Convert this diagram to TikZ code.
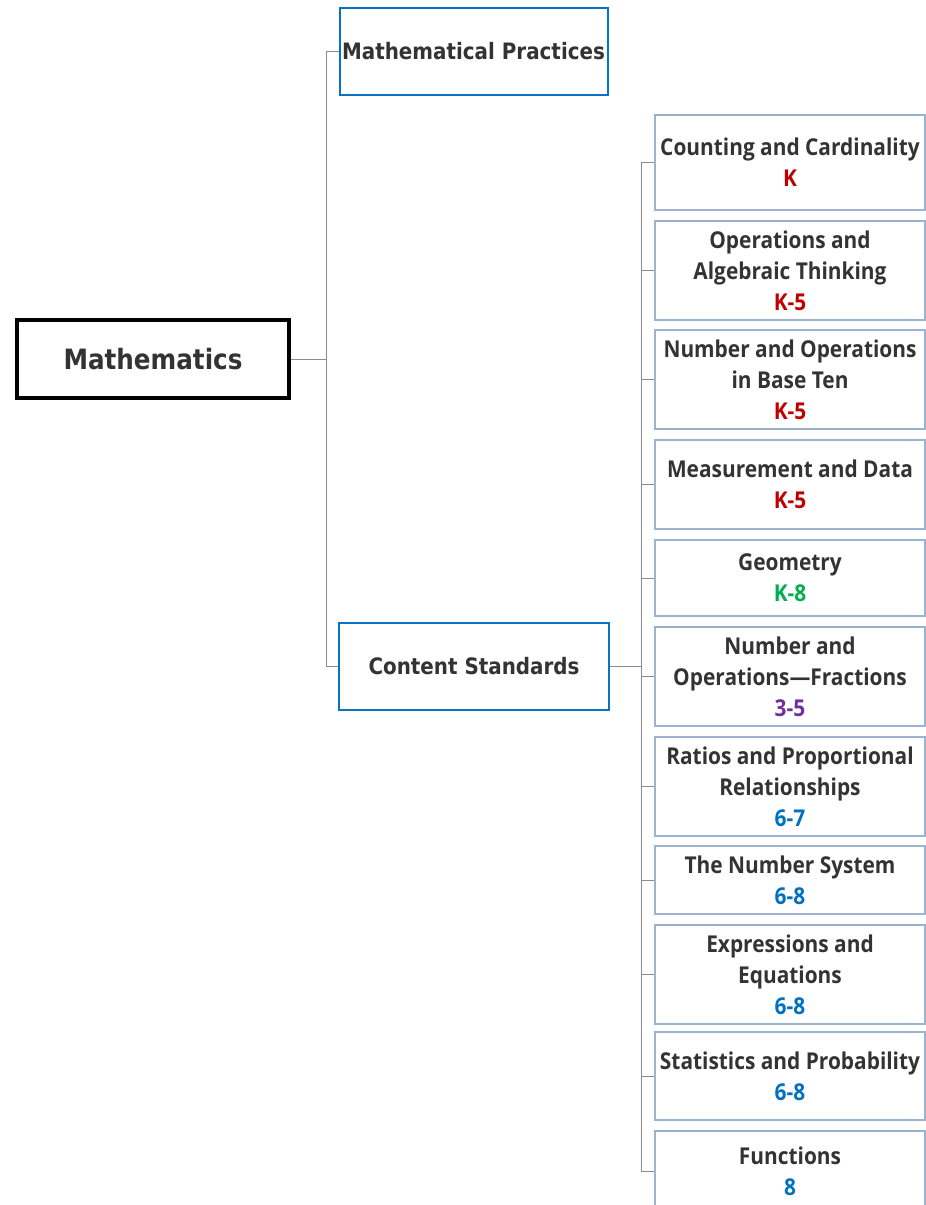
\documentclass[tikz,border=0pt]{standalone}
\usepackage{fontspec}
\setmainfont{Open Sans}
\newfontfamily\leaffont[FakeStretch=0.9]{Open Sans}
\newfontfamily\headfont[FakeStretch=0.88]{DejaVu Sans}
\definecolor{txt}{HTML}{333333}
\definecolor{wire}{HTML}{8C8C8C}
\definecolor{hdblue}{HTML}{0A72C4}
\definecolor{leafedge}{HTML}{9AB3CF}
\definecolor{gk}{HTML}{C00000}
\definecolor{gmid}{HTML}{00B050}
\definecolor{gfrac}{HTML}{7030A0}
\definecolor{gup}{HTML}{0070C0}
\tikzset{
  rootbox/.style={draw=black, line width=3.5pt, minimum width=272pt, minimum height=78pt,
    inner sep=0pt, text=txt, font=\headfont\bfseries\fontsize{28}{32}\selectfont},
  headbox/.style={draw=hdblue, line width=2pt, minimum width=268pt, minimum height=87pt,
    inner sep=0pt, text=txt, font=\headfont\bfseries\fontsize{22.6}{28}\selectfont},
  leafbox/.style={draw=leafedge, line width=1.2pt, minimum width=270pt, inner sep=0pt,
    align=center, text=txt, font=\leaffont\bfseries\fontsize{23.2}{31}\selectfont},
  conn/.style={draw=wire, line width=1pt},
}
\begin{document}
\begin{tikzpicture}[x=1pt,y=-1pt]
\useasboundingbox (0,0) rectangle (926,1205);

% top levels
\node[rootbox] (root) at (153,359) {Mathematics};
\node[headbox] (mp) at (473.5,51) {Mathematical Practices};
\node[headbox, minimum width=270pt] (cs) at (474,666) {Content Standards};

% content domains
\node[leafbox, minimum height=95pt] (d1) at (790,162.5) {Counting and Cardinality\\\textcolor{gk}{K}};
\node[leafbox, minimum height=99pt] (d2) at (790,270.5) {Operations and\\Algebraic Thinking\\\textcolor{gk}{K-5}};
\node[leafbox, minimum height=99pt] (d3) at (790,379.5) {Number and Operations\\in Base Ten\\\textcolor{gk}{K-5}};
\node[leafbox, minimum height=89pt] (d4) at (790,484.5) {Measurement and Data\\\textcolor{gk}{K-5}};
\node[leafbox, minimum height=76pt] (d5) at (790,578) {Geometry\\\textcolor{gmid}{K-8}};
\node[leafbox, minimum height=99pt] (d6) at (790,676.5) {Number and\\Operations—Fractions\\\textcolor{gfrac}{3-5}};
\node[leafbox, minimum height=99pt] (d7) at (790,786.5) {Ratios and Proportional\\Relationships\\\textcolor{gup}{6-7}};
\node[leafbox, minimum height=68pt] (d8) at (790,880) {The Number System\\\textcolor{gup}{6-8}};
\node[leafbox, minimum height=99pt] (d9) at (790,974.5) {Expressions and\\Equations\\\textcolor{gup}{6-8}};
\node[leafbox, minimum height=88pt] (d10) at (790,1076) {Statistics and Probability\\\textcolor{gup}{6-8}};
\node[leafbox, minimum height=80pt] (d11) at (790,1171) {Functions\\\textcolor{gup}{8}};

% connectors
\coordinate (trunk) at (326,359);
\coordinate (bus) at (641,666);
\draw[conn] (root.east) -- (trunk);
\draw[conn] (trunk) |- (mp.west);
\draw[conn] (trunk) |- (cs.west);
\draw[conn] (cs.east) -- (bus);
\foreach \d in {d1,d2,d3,d4,d5,d6,d7,d8,d9,d10,d11}
  \draw[conn] (bus) |- (\d.west);
\end{tikzpicture}
\end{document}
